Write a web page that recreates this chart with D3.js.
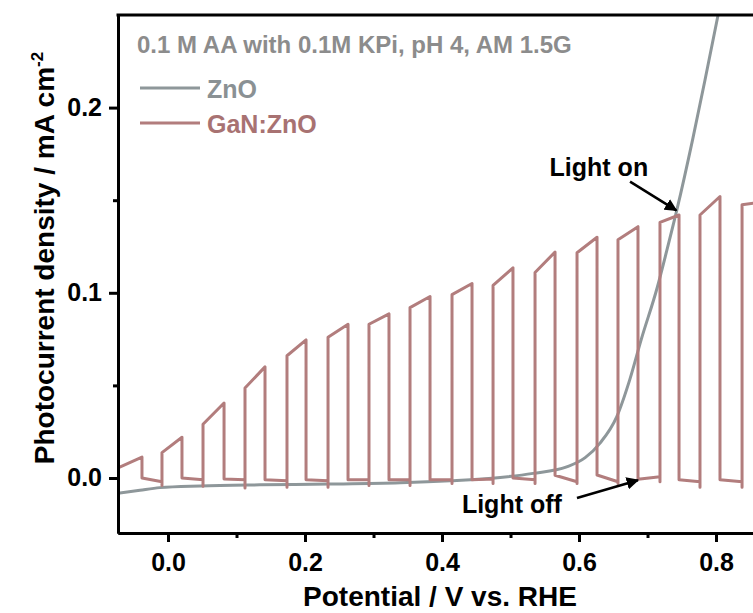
<!DOCTYPE html>
<html>
<head>
<meta charset="utf-8">
<script src="https://cdn.jsdelivr.net/npm/d3@7/dist/d3.min.js"></script>
<style>
  body { margin: 0; background: #fff; }
  text { font-family: "Liberation Sans", Arial, sans-serif; font-weight: bold; }
</style>
</head>
<body>
<svg id="chart" width="753" height="613"></svg>
<script>
// ejes
const xMajor = [0, 0.2, 0.4, 0.6, 0.8];
const xMinor = [0.1, 0.3, 0.5, 0.7];
const yMajor = [0, 0.1, 0.2];
const yMinor = [0.05, 0.15];

// ZnO (V vs RHE, mA cm-2)
const znoV = [-0.073, -0.041, -0.012, 0.047, 0.134, 0.236, 0.339, 0.412, 0.485, 0.533, 0.582, 0.609, 0.631, 0.655, 0.674, 0.691, 0.714, 0.728, 0.743, 0.766, 0.784, 0.803, 0.815];
const znoJ = [-0.0083, -0.0066, -0.0052, -0.0043, -0.0037, -0.0033, -0.0026, -0.0015, 0.0003, 0.0025, 0.006, 0.011, 0.019, 0.033, 0.053, 0.075, 0.1026, 0.1226, 0.145, 0.183, 0.215, 0.25, 0.273];

// GaN:ZnO chopped light
const onV = [-0.073, -0.0088, 0.0511, 0.1124, 0.1737, 0.2336, 0.2934, 0.3533, 0.4146, 0.4745, 0.5358, 0.5971, 0.6569, 0.7182, 0.7766, 0.8380];
const offV = [-0.038, 0.0204, 0.0818, 0.1416, 0.2015, 0.2628, 0.3226, 0.3825, 0.4438, 0.5036, 0.5650, 0.6263, 0.6861, 0.7460, 0.8058, 0.867];
const topStart = [0.0054, 0.0137, 0.029, 0.0486, 0.066, 0.076, 0.083, 0.092, 0.099, 0.104, 0.111, 0.1216, 0.1286, 0.138, 0.142, 0.1476];
const topEnd = [0.0113, 0.022, 0.0405, 0.060, 0.0746, 0.083, 0.0886, 0.098, 0.105, 0.1135, 0.122, 0.130, 0.1357, 0.142, 0.152, 0.149];
const darkStart = [0.0, 0.0, -0.0005, -0.001, -0.001, -0.001, -0.001, -0.001, -0.001, 0.0, 0.0015, 0.0016, -0.0007, -0.001, -0.001];
const darkEnd = [-0.002, -0.001, -0.001, -0.0015, -0.0015, -0.001, -0.001, -0.001, -0.0005, -0.001, -0.002, -0.002, 0.0007, -0.002, -0.002];
const dipJ = [-0.004, -0.0045, -0.0054, -0.005, -0.005, -0.004, -0.004, -0.003, -0.003, -0.003, -0.003, -0.003, -0.002, -0.005, -0.005];

const colorZnO = "#8e979a";
const colorGaN = "#b27d7d";

const svg = d3.select("#chart");
const mLeft = 118, mTop = 15, mBottom = 533, mRight = 790;

const x = d3.scaleLinear().domain([-0.073, 0.908]).range([mLeft, mRight]);
const y = d3.scaleLinear().domain([-0.0297, 0.25]).range([mBottom, mTop]);

const defs = svg.append("defs");
defs.append("clipPath").attr("id", "clip")
  .append("rect").attr("x", mLeft).attr("y", mTop).attr("width", mRight - mLeft).attr("height", mBottom - mTop);

// GaN:ZnO puntos
let ganPts = [];
onV.forEach((v, i) => {
  if (i > 0) ganPts.push([v, dipJ[i - 1]]);
  ganPts.push([v, topStart[i]]);
  ganPts.push([offV[i], topEnd[i]]);
  if (i < darkStart.length) {
    ganPts.push([offV[i], darkStart[i]]);
    ganPts.push([onV[i + 1], darkEnd[i]]);
  }
});

const plot = svg.append("g").attr("clip-path", "url(#clip)");

plot.append("path")
  .datum(znoV.map((v, i) => [v, znoJ[i]]))
  .attr("fill", "none")
  .attr("stroke", colorZnO)
  .attr("stroke-width", 3)
  .attr("d", d3.line().x(d => x(d[0])).y(d => y(d[1])).curve(d3.curveMonotoneX));

plot.append("path")
  .datum(ganPts)
  .attr("fill", "none")
  .attr("stroke", colorGaN)
  .attr("stroke-width", 3)
  .attr("stroke-linejoin", "round")
  .attr("d", d3.line().x(d => x(d[0])).y(d => y(d[1])));

// ejes
function estilo(g) {
  g.selectAll("path").attr("stroke", "#000").attr("stroke-width", 3);
  g.selectAll("line").attr("stroke", "#000").attr("stroke-width", 3);
  g.selectAll("text").attr("fill", "#000").style("font-size", "25px");
}

svg.append("g").attr("transform", `translate(0,${mBottom})`)
  .call(d3.axisBottom(x).tickValues(xMinor).tickSize(5).tickSizeOuter(0).tickFormat(""))
  .call(estilo);
svg.append("g").attr("transform", `translate(0,${mBottom})`)
  .call(d3.axisBottom(x).tickValues(xMajor).tickSize(9).tickSizeOuter(0).tickPadding(11).tickFormat(d3.format(".1f")))
  .call(estilo);

svg.append("g").attr("transform", `translate(${mLeft},0)`)
  .call(d3.axisLeft(y).tickValues(yMinor).tickSize(5).tickSizeOuter(0).tickFormat(""))
  .call(estilo);
svg.append("g").attr("transform", `translate(${mLeft},0)`)
  .call(d3.axisLeft(y).tickValues(yMajor).tickSize(9).tickSizeOuter(0).tickPadding(7).tickFormat(d3.format(".1f")))
  .call(estilo);

svg.append("line")
  .attr("x1", mLeft - 1.5).attr("x2", mRight)
  .attr("y1", mTop).attr("y2", mTop)
  .attr("stroke", "#000").attr("stroke-width", 3);

// titulos
svg.append("text")
  .attr("x", 440).attr("y", 606)
  .attr("text-anchor", "middle")
  .style("font-size", "28px")
  .text("Potential / V vs. RHE");

const yt = svg.append("text")
  .attr("transform", `translate(54,258) rotate(-90)`)
  .attr("text-anchor", "middle")
  .style("font-size", "28px");
yt.append("tspan").text("Photocurrent density / mA cm");
yt.append("tspan").attr("dy", -11).style("font-size", "17px").text("-2");

// leyenda
svg.append("text")
  .attr("x", 137).attr("y", 53)
  .attr("fill", "#8c8c8c")
  .style("font-size", "24px")
  .text("0.1 M AA with 0.1M KPi, pH 4, AM 1.5G");

const legend = [
  { name: "ZnO", color: colorZnO, text: "#8a9194", y: 88 },
  { name: "GaN:ZnO", color: colorGaN, text: "#a87272", y: 123 }
];
legend.forEach(l => {
  svg.append("line").attr("x1", 140).attr("x2", 200).attr("y1", l.y).attr("y2", l.y)
    .attr("stroke", l.color).attr("stroke-width", 3);
  svg.append("text").attr("x", 207).attr("y", l.y + 10)
    .attr("fill", l.text).style("font-size", "25px").text(l.name);
});

// anotaciones
defs.append("marker")
  .attr("id", "head")
  .attr("viewBox", "0 0 10 10")
  .attr("refX", 9).attr("refY", 5)
  .attr("markerWidth", 5).attr("markerHeight", 5)
  .attr("markerUnits", "strokeWidth")
  .attr("orient", "auto")
  .append("path").attr("d", "M0,0L10,5L0,10Z").attr("fill", "#000");

const notas = [
  { text: "Light on", tx: 0.629, ty: 0.163, from: [0.6745, 0.160], to: [0.742, 0.1445] },
  { text: "Light off", tx: 0.502, ty: -0.019, from: [0.597, -0.0108], to: [0.686, -0.0012] }
];
notas.forEach(n => {
  svg.append("text").attr("x", x(n.tx)).attr("y", y(n.ty))
    .attr("text-anchor", "middle").style("font-size", "25px").text(n.text);
  svg.append("line")
    .attr("x1", x(n.from[0])).attr("y1", y(n.from[1]))
    .attr("x2", x(n.to[0])).attr("y2", y(n.to[1]))
    .attr("stroke", "#000").attr("stroke-width", 2.5)
    .attr("marker-end", "url(#head)");
});
</script>
</body>
</html>
